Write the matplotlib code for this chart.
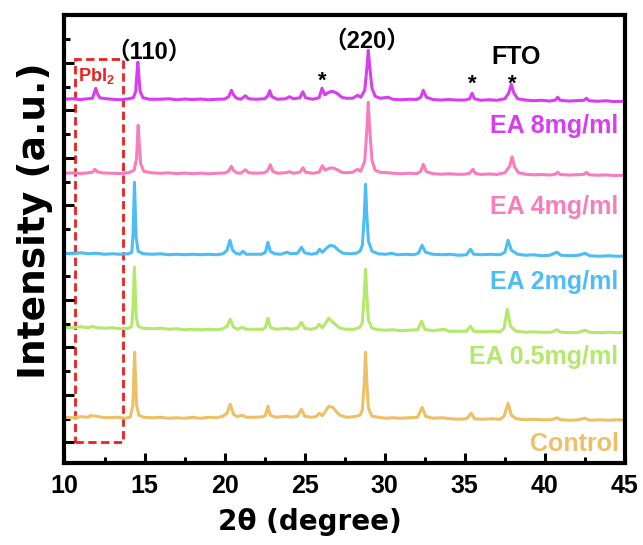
import matplotlib.pyplot as plt
from matplotlib.patches import Rectangle
from matplotlib.ticker import MultipleLocator, NullFormatter

plt.rcParams['mathtext.fontset'] = 'custom'
plt.rcParams['mathtext.bf'] = 'Liberation Sans:bold'
plt.rcParams['mathtext.rm'] = 'Liberation Sans:bold'

# ---- data (2theta, intensity above own baseline, a.u.) ----
labels = ['EA 8mg/ml', 'EA 4mg/ml', 'EA 2mg/ml', 'EA 0.5mg/ml', 'Control']
colors = ['#D83EF0', '#F77DBD', '#4EBDF6', '#B3E86B', '#EEC065']
offsets = [362, 288, 208, 131, 43]

ea8_x = [10.0, 10.5, 11.0, 11.5, 11.75, 11.87, 11.95, 12.05, 12.2, 12.6, 13.0, 13.5, 14.0, 14.3, 14.45,
         14.52, 14.58, 14.64, 14.72, 14.9, 15.3, 16.0, 16.5, 17.0, 17.5, 18.0, 18.5, 19.0, 19.5, 20.0,
         20.25, 20.42, 20.55, 20.75, 21.0, 21.3, 21.5, 22.0, 22.5, 22.7, 22.82, 22.95, 23.3, 23.8, 24.05,
         24.3, 24.7, 24.88, 25.05, 25.5, 25.9, 26.08, 26.25, 26.45, 26.7, 26.9, 27.1, 27.3, 27.6, 28.0,
         28.3, 28.5, 28.75, 28.9, 28.97, 29.05, 29.2, 29.4, 29.7, 30.2, 30.5, 31.0, 31.5, 32.0, 32.25,
         32.4, 32.6, 33.0, 33.5, 34.0, 34.5, 35.0, 35.3, 35.45, 35.6, 36.0, 36.5, 37.0, 37.5, 37.75,
         37.9, 38.05, 38.3, 38.8, 39.3, 39.8, 40.3, 40.65, 40.8, 40.95, 41.5, 42.0, 42.45, 42.6, 42.75,
         43.3, 43.8, 44.3, 45.0]
ea8_y = [2, 2.5, 1.7, 2.6, 3, 9, 13, 8, 3.5, 2.5, 2, 1.5, 2.5, 3.5, 10,
         27, 39, 26, 10, 3.5, 2, 2, 2.5, 1.5, 2.2, 1.7, 2.2, 1.5, 2, 2.2,
         4.5, 11, 6.5, 3, 2, 5.5, 2.5, 2, 2.5, 5.5, 10.5, 4.5, 2, 2.5, 4.5,
         2.5, 3.5, 9.5, 3.5, 2, 3.5, 13, 6.5, 8.5, 10, 9, 7, 4, 3, 3,
         6, 4, 11, 36, 51, 36, 13, 5, 3, 4, 2, 1.5, 2, 1.8, 4,
         11, 4, 1.8, 1.2, 1.8, 1.2, 1.2, 2.5, 8, 2.5, 1, 1.5, 1, 2.5, 8.5,
         17, 8.5, 2.5, 1.2, 0.5, 1, 0.2, 1.2, 4, 1, 0.2, 0.6, 1, 3, 0.5,
         0, 0.5, -0.3, 0]

ea4_x = [10.0, 10.5, 11.0, 11.5, 11.75, 11.9, 12.05, 12.4, 13.0, 13.5, 14.0, 14.35, 14.5, 14.56, 14.6,
         14.66, 14.75, 14.95, 15.4, 16.0, 16.5, 17.0, 17.5, 18.0, 18.5, 19.0, 19.5, 20.0, 20.25, 20.42,
         20.55, 20.75, 21.0, 21.3, 21.5, 22.0, 22.5, 22.7, 22.85, 23.0, 23.3, 23.8, 24.05, 24.3, 24.7,
         24.9, 25.05, 25.5, 25.9, 26.1, 26.27, 26.45, 26.7, 26.9, 27.1, 27.3, 27.6, 28.0, 28.3, 28.5,
         28.75, 28.9, 28.97, 29.05, 29.2, 29.4, 29.7, 30.2, 30.5, 31.0, 31.5, 32.0, 32.25, 32.4, 32.6,
         33.0, 33.5, 34.0, 34.5, 35.0, 35.3, 35.5, 35.65, 36.0, 36.5, 37.0, 37.5, 37.8, 37.95, 38.1,
         38.35, 38.8, 39.3, 39.8, 40.3, 40.65, 40.8, 40.95, 41.5, 42.0, 42.45, 42.6, 42.75, 43.3, 43.8,
         44.3, 45.0]
ea4_y = [2, 2.4, 1.7, 2.5, 3, 6, 3.5, 2.3, 2, 1.7, 2.5, 5, 17, 37, 50,
         34, 12, 4, 2.5, 2, 2.4, 1.6, 2.2, 1.6, 2.1, 1.5, 2, 2.2, 4, 9,
         5, 2.5, 2, 5.5, 2.5, 2, 2.5, 5, 10.5, 4, 2, 2.5, 3.5, 2, 3,
         7.5, 3, 2, 3, 9.5, 5, 6.5, 7.5, 6.5, 5, 3, 2.5, 3, 6, 4,
         14, 50, 73, 48, 15, 5, 3, 2.5, 2, 1.5, 2, 1.6, 4, 11, 3.5,
         1.6, 1, 1.5, 1, 1, 2, 6, 2, 0.8, 1.3, 0.8, 2.5, 9, 18.5, 8.5,
         2.5, 1, 0.4, 0.8, 0.2, 1, 3, 0.8, 0.2, 0.5, 1, 3, 0.5, 0, 0.4,
         -0.3, 0]

ea2_x = [10.0, 10.5, 11.0, 11.5, 12.0, 12.5, 13.0, 13.5, 14.0, 14.2, 14.28, 14.33, 14.37, 14.41, 14.47,
         14.6, 14.9, 15.5, 16.0, 16.5, 17.0, 17.5, 18.0, 18.5, 19.0, 19.5, 19.9, 20.15, 20.33, 20.5,
         20.7, 20.95, 21.15, 21.35, 21.8, 22.3, 22.55, 22.7, 22.85, 23.1, 23.5, 23.9, 24.1, 24.55, 24.8,
         25.0, 25.4, 25.75, 25.92, 26.1, 26.35, 26.6, 26.85, 27.1, 27.4, 27.8, 28.2, 28.45, 28.6, 28.72,
         28.8, 28.87, 28.98, 29.2, 29.6, 30.1, 30.4, 30.8, 31.3, 31.8, 32.1, 32.33, 32.55, 33.0, 33.6,
         34.1, 34.6, 35.1, 35.35, 35.55, 36.0, 36.6, 37.2, 37.5, 37.7, 37.9, 38.3, 38.8, 39.3, 39.8,
         40.3, 40.75, 41.0, 41.6, 42.1, 42.5, 42.8, 43.4, 44.0, 44.5, 45.0]
ea2_y = [2, 1.5, 2.5, 1.5, 2, 1, 1.5, 1, 1.5, 3, 20, 50, 73, 50, 18,
         4, 1.5, 1, 1.5, 0.5, 1, 0.5, 1, 0.5, 1, 0.5, 1.5, 5, 15, 5,
         2, 1, 4, 1, 1, 1, 3, 13, 4, 1.5, 1, 3, 1.5, 2, 8,
         2.5, 1, 2, 6, 3, 7, 10, 9, 5, 2, 1.5, 2, 4, 10, 40,
         71, 42, 14, 4, 1.5, 1, 2, 0.5, 1, 0.5, 2, 10, 3, 1, 0.5,
         1, 0, 0.5, 6, 1, 0.5, 1, 0.5, 3, 15, 5, 1, 0, 0.5, -0.5,
         0, 3, 0, -0.5, 0, 2, -0.5, -1, -0.5, -1, -1]

ea05_x = [10.0, 10.5, 11.0, 11.5, 11.75, 12.0, 12.5, 13.0, 13.5, 14.0, 14.2, 14.28, 14.33, 14.37, 14.41,
          14.48, 14.6, 14.9, 15.5, 16.0, 16.5, 17.0, 17.5, 18.0, 18.5, 19.0, 19.5, 19.9, 20.15, 20.35,
          20.55, 20.8, 21.1, 21.35, 21.9, 22.4, 22.55, 22.7, 22.85, 23.2, 23.9, 24.1, 24.55, 24.8, 25.0,
          25.4, 25.7, 25.9, 26.1, 26.3, 26.5, 26.7, 26.9, 27.2, 27.6, 28.1, 28.45, 28.6, 28.72, 28.8,
          28.87, 28.98, 29.2, 29.6, 30.1, 30.5, 31.0, 31.5, 32.05, 32.3, 32.5, 33.0, 33.7, 34.0, 34.6,
          35.1, 35.35, 35.55, 36.1, 36.7, 37.2, 37.45, 37.65, 37.85, 38.2, 38.8, 39.3, 39.8, 40.4, 40.75,
          41.0, 41.6, 42.1, 42.5, 42.8, 43.4, 44.0, 44.5, 45.0]
ea05_y = [5, 4.5, 5.5, 4.5, 6, 4.5, 4, 4.5, 3.5, 4, 6, 25, 50, 65, 45,
          15, 6, 4, 3.5, 4, 3, 3.5, 2.5, 3, 2.5, 3, 2.5, 3.5, 6, 13,
          5, 3, 5, 3, 3, 3, 5, 14, 5, 3, 4, 3, 4, 10, 4,
          3, 4, 8, 4.5, 9, 14, 11, 8, 4, 3, 3, 5, 10, 38, 63,
          40, 12, 4, 2.5, 2, 2.5, 1.5, 2, 2.5, 11, 3, 1.5, 3, 1, 1,
          1, 6, 1, 0.5, 1, 0.5, 4, 23, 6, 1, 0, 0.5, 0, 0, 2.5,
          0, -0.5, 0, 2, 0, -0.5, 0, -0.5, 0]

ctrl_x = [10.0, 10.5, 11.0, 11.5, 11.6, 12.0, 12.3, 12.8, 13.3, 13.8, 14.1, 14.27, 14.33, 14.38, 14.43,
          14.5, 14.65, 14.95, 15.5, 16.0, 16.5, 17.0, 17.5, 18.0, 18.5, 19.0, 19.5, 19.9, 20.15, 20.35,
          20.55, 20.8, 21.1, 21.35, 21.9, 22.4, 22.55, 22.7, 22.85, 23.2, 23.9, 24.1, 24.55, 24.8, 25.0,
          25.4, 25.7, 25.92, 26.1, 26.3, 26.5, 26.75, 26.95, 27.2, 27.6, 28.1, 28.45, 28.6, 28.72, 28.8,
          28.87, 28.98, 29.2, 29.6, 30.1, 30.5, 31.0, 31.5, 32.05, 32.33, 32.55, 33.0, 33.6, 34.1, 34.6,
          35.1, 35.4, 35.6, 36.1, 36.7, 37.2, 37.45, 37.7, 37.9, 38.2, 38.8, 39.3, 39.8, 40.4, 40.75,
          41.0, 41.6, 42.1, 42.5, 42.8, 43.4, 44.0, 44.5, 45.0]
ctrl_y = [3, 2.5, 3.5, 3, 4.5, 4, 3, 2.5, 3, 2, 3, 15, 45, 68, 45,
          15, 5, 3, 2.5, 3, 2, 2.5, 2, 3, 2, 3, 2.5, 4, 7, 16,
          6, 3.5, 5, 3, 3, 3.5, 5, 14, 5, 3, 4, 3, 4, 11, 4,
          3, 3.5, 7, 4.5, 9, 14, 13, 9, 5, 3, 3.5, 5, 10, 38, 68,
          40, 12, 4, 3, 2, 2.5, 2, 2.5, 3, 13, 4, 2, 2.5, 1.5, 1,
          1.5, 7, 1.5, 1, 1.5, 1, 4, 17, 5, 1.5, 0.5, 1, 0.5, 0.5, 2.5,
          0.5, 0, 0.5, 2, 0, 0.5, 0, 0.5, 0]

traces_x = [ea8_x, ea4_x, ea2_x, ea05_x, ctrl_x]
traces_y = [ea8_y, ea4_y, ea2_y, ea05_y, ctrl_y]

fig = plt.figure(figsize=(6.43, 5.45), dpi=100)
ax = fig.add_axes([0.1003, 0.150, 0.8717, 0.822])

# stacked XRD curves
for xs, ys, off, c in zip(traces_x, traces_y, offsets, colors):
    ax.plot(xs, [v + off for v in ys], color=c, lw=2.2, solid_joinstyle='round')

# sample labels
label_y = [330, 249, 174, 99, 12]
for lab, ly, c in zip(labels, label_y, colors):
    ax.text(44.6, ly, lab, color=c, fontsize=18, fontweight='bold',
            family=['Liberation Sans'], ha='right', va='baseline')

# peak annotations
cjk = ['Liberation Sans', 'Noto Sans CJK SC']
ax.text(15.3, 405, '（110）', fontsize=17, fontweight='bold', family=cjk, ha='center', va='baseline')
ax.text(28.9, 416, '（220）', fontsize=17, fontweight='bold', family=cjk, ha='center', va='baseline')
ax.text(38.2, 399, 'FTO', fontsize=18, fontweight='bold', family=['Liberation Sans'], ha='center', va='baseline')
for sx, sy in [(26.1, 382), (35.47, 379), (37.95, 379)]:
    ax.text(sx, sy, '*', fontsize=16, fontweight='bold', family=['Liberation Sans'], ha='center', va='center')

# PbI2 dashed box
box = Rectangle((10.66, 21), 13.65 - 10.66, 404 - 21, fill=False, edgecolor='#F01E1E',
                lw=2.0, linestyle=(0, (3, 1.6)))
ax.add_patch(box)
ax.text(11.98, 387, r'PbI$_{\mathbf{2}}$', color='#F01E1E', fontsize=13, fontweight='bold',
        family=['Liberation Sans'], ha='center', va='center')

# axes
ax.set_xlim(10, 45)
ax.set_ylim(0, 448)
ax.xaxis.set_major_locator(MultipleLocator(5))
ax.xaxis.set_minor_locator(MultipleLocator(2.5))
ax.set_yticks([21 + 47.4 * k for k in range(9)])
ax.set_yticks([21 + 23.7 + 47.4 * k for k in range(9)], minor=True)
ax.yaxis.set_major_formatter(NullFormatter())
ax.tick_params(axis='both', which='major', direction='in', width=2.2, length=7)
ax.tick_params(axis='both', which='minor', direction='in', width=2.2, length=4)
ax.tick_params(axis='x', pad=8, labelsize=18)
for lab in ax.get_xticklabels():
    lab.set_family(['Liberation Sans'])
    lab.set_fontweight('bold')
for sp in ax.spines.values():
    sp.set_linewidth(3)

fig.text(310 / 643, 1 - 522 / 545, '2θ (degree)', fontsize=20, fontweight='bold',
         family=['DejaVu Sans'], ha='center', va='center')
fig.text(35 / 643, 1 - 221 / 545, 'Intensity (a.u.)', fontsize=27, fontweight='bold',
         family=['DejaVu Sans'], rotation=90, ha='center', va='center')

fig.savefig('out.png', dpi=100)
